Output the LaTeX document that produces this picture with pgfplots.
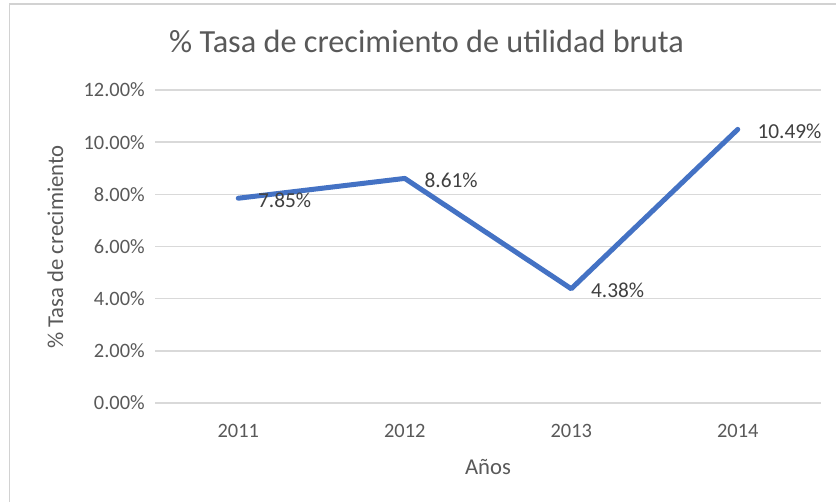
\documentclass[border=0pt]{standalone}
\usepackage{fontspec}
\setmainfont{Carlito}
\usepackage{pgfplots}
\pgfplotsset{compat=1.18}
\definecolor{cLine}{RGB}{68,114,196}
\definecolor{cText}{RGB}{89,89,89}
\definecolor{cLabel}{RGB}{64,64,64}
\definecolor{cGrid}{RGB}{217,217,217}
\definecolor{cFrame}{RGB}{210,210,210}

% 1 px of the reference = 0.75pt
\begin{document}
\begin{tikzpicture}
\useasboundingbox (0,0) rectangle (627pt,376.5pt);
\fill[white] (0,0) rectangle (627pt,376.5pt);
% chart frame (only left and top edges are visible)
\draw[cFrame, line width=1.4pt] (7.1pt,0) -- (7.1pt,373.5pt) -- (627pt,373.5pt);

\begin{axis}[
  at={(116.25pt,74.25pt)}, anchor=south west,
  scale only axis, width=499.5pt, height=234.75pt,
  xmin=-0.5, xmax=3.5, ymin=0, ymax=12,
  xtick={0,1,2,3}, xticklabels={2011,2012,2013,2014},
  ytick={0,2,4,6,8,10,12},
  yticklabel={\pgfmathprintnumber[fixed,fixed zerofill,precision=2,assume math mode=true]{\tick}\%},
  axis line style={draw=none},
  major tick length=0pt,
  ymajorgrids, grid style={cGrid, line width=1.2pt},
  tick label style={font=\fontsize{15.3}{18}\selectfont, text=cText},
  yticklabel style={anchor=east, inner sep=0pt, xshift=-7.5pt},
  xticklabel style={anchor=base, inner sep=0pt, yshift=-26.25pt},
  nodes near coords={\pgfmathprintnumber[fixed,fixed zerofill,precision=2,assume math mode=true]{\pgfplotspointmeta}\%},
  every node near coord/.append style={font=\fontsize{16}{19}\selectfont, text=cLabel,
      anchor=west, inner sep=0pt, xshift=13pt, yshift=-1.5pt},
  clip=false,
]
\addplot[cLine, line width=3.75pt, line cap=round, line join=round, mark=none]
  coordinates {(0,7.85) (1,8.61) (2,4.38) (3,10.49)};
\end{axis}

\node[anchor=base, text=cText, font=\fontsize{24.2}{29}\selectfont] at (319.9pt,336.75pt)
  {\% Tasa de crecimiento de utilidad bruta};
\node[anchor=base, text=cText, font=\fontsize{17}{20}\selectfont] at (366pt,20.25pt) {Años};
\node[anchor=base, rotate=90, text=cText, font=\fontsize{17}{20}\selectfont] at (47.25pt,191.25pt)
  {\% Tasa de crecimiento};
\end{tikzpicture}
\end{document}
